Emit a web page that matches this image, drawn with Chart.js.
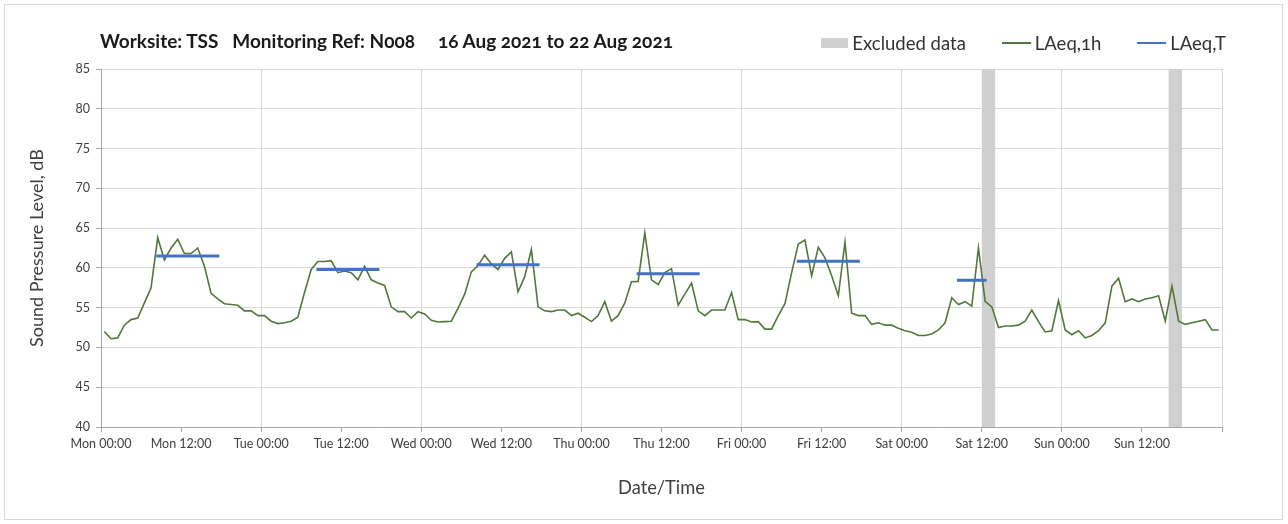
<!DOCTYPE html>
<html>
<head>
<meta charset="utf-8">
<title>Noise monitoring N008</title>
<script src="https://cdn.jsdelivr.net/npm/chart.js@4.4.1/dist/chart.umd.min.js"></script>
<style>
  html, body { margin: 0; padding: 0; background: #fff; }
  #wrap { position: relative; width: 1288px; height: 524px; font-family: Lato, "Open Sans", sans-serif; }
  #c { position: absolute; left: 0; top: 0; }
  #frame { position: absolute; left: 4px; top: 4px; width: 1279px; height: 516px; box-sizing: border-box;
           border: 1px solid #d9d9d9; pointer-events: none; }
  #title { position: absolute; left: 100px; top: 29px; font-weight: 700; font-size: 19px; color: #1a1a1a;
           white-space: pre; line-height: 24px; font-feature-settings: "onum" 1; }
  #legend { position: absolute; right: 62px; top: 31px; display: flex; align-items: center; gap: 36px;
            font-size: 18.5px; color: #333; line-height: 24px; font-feature-settings: "onum" 1; }
  #legend .item { display: flex; align-items: center; gap: 4px; }
  #legend .swatch { display: inline-block; }
</style>
</head>
<body>
<div id="wrap">
  <canvas id="c" width="1288" height="524"></canvas>
  <div id="frame"></div>
  <div id="title">Worksite: TSS   Monitoring Ref: N008     16 Aug 2021 to 22 Aug 2021</div>
  <div id="legend"></div>
</div>
<script>
// Hourly A-weighted levels, one value per hour from Mon 00:00 (plotted at mid-hour)
const lAeq1h = [
  52.0, 51.1, 51.2, 52.8, 53.5, 53.7, 55.6, 57.5, 63.8, 61.0, 62.5, 63.6,
  61.8, 61.8, 62.5, 60.2, 56.8, 56.1, 55.5, 55.4, 55.3, 54.6, 54.6, 54.0,
  54.0, 53.3, 53.0, 53.1, 53.3, 53.8, 56.9, 59.8, 60.8, 60.8, 60.9, 59.4,
  59.6, 59.4, 58.5, 60.2, 58.5, 58.1, 57.8, 55.1, 54.5, 54.5, 53.7, 54.5,
  54.2, 53.4, 53.2, 53.25, 53.3, 54.9, 56.7, 59.5, 60.3, 61.6, 60.5, 59.8,
  61.2, 62.0, 57.0, 58.9, 62.3, 55.1, 54.6, 54.5, 54.7, 54.7, 54.0, 54.3,
  53.8, 53.25, 54.0, 55.75, 53.3, 54.0, 55.6, 58.25, 58.3, 64.4, 58.5, 57.9,
  59.4, 59.9, 55.3, 56.7, 58.1, 54.6, 54.0, 54.7, 54.7, 54.7, 56.9, 53.5,
  53.5, 53.2, 53.25, 52.3, 52.3, 54.0, 55.5, 59.4, 63.0, 63.5, 59.0, 62.6,
  61.25, 59.0, 56.5, 63.25, 54.3, 54.0, 54.0, 52.9, 53.1, 52.8, 52.8, 52.4,
  52.1, 51.9, 51.5, 51.5, 51.7, 52.2, 53.1, 56.25, 55.4, 55.75, 55.2, 62.5,
  55.8, 55.1, 52.5, 52.7, 52.7, 52.8, 53.3, 54.7, 53.25, 51.95, 52.1, 55.9,
  52.2, 51.6, 52.1, 51.2, 51.5, 52.1, 53.1, 57.7, 58.7, 55.75, 56.1, 55.75,
  56.1, 56.25, 56.5, 53.3, 57.7, 53.3, 52.9, 53.1, 53.3, 53.5, 52.2, 52.2
];

// Working-period levels LAeq,T: start hour, end hour and level for each day
const periodStart = [8.5, 32.5, 56.5, 80.5, 104.5, 128.5];
const periodEnd   = [17.5, 41.5, 65.5, 89.5, 113.5, 132.5];
const lAeqT       = [61.5, 59.8, 60.4, 59.25, 60.85, 58.45];

// Excluded data windows (hours from Mon 00:00)
const excludedFrom = [132, 160];
const excludedTo   = [134, 162];

// Axis tick labels every 12 hours
const tickLabels = [
  'Mon 00:00', 'Mon 12:00', 'Tue 00:00', 'Tue 12:00', 'Wed 00:00', 'Wed 12:00',
  'Thu 00:00', 'Thu 12:00', 'Fri 00:00', 'Fri 12:00', 'Sat 00:00', 'Sat 12:00',
  'Sun 00:00', 'Sun 12:00'
];

const GREEN = '#53773a';
const BLUE = '#4472c4';
const GREY = '#d0d0d0';
const GRID = '#d9d9d9';
const AXIS = '#a6a6a6';
const TEXT = '#404040';
const FONT = 'Lato, "Open Sans", sans-serif';

const hourlyPoints = lAeq1h.map((v, i) => ({ x: i + 0.5, y: v }));
const periodPoints = [];
lAeqT.forEach((v, i) => {
  periodPoints.push({ x: periodStart[i], y: v }, { x: periodEnd[i], y: v }, { x: periodEnd[i], y: null });
});

// Shaded bands for excluded periods, drawn behind the data lines
const excludedBands = {
  id: 'excludedBands',
  beforeDatasetsDraw(chart) {
    const { ctx, chartArea, scales: { x } } = chart;
    ctx.save();
    ctx.fillStyle = GREY;
    excludedFrom.forEach((from, i) => {
      const x0 = x.getPixelForValue(from);
      const x1 = x.getPixelForValue(excludedTo[i]);
      ctx.fillRect(x0, chartArea.top, x1 - x0, chartArea.bottom - chartArea.top);
    });
    ctx.restore();
  }
};

const chart = new Chart(document.getElementById('c'), {
  type: 'line',
  data: {
    datasets: [
      { label: 'Excluded data', data: [], backgroundColor: GREY, borderColor: GREY, borderWidth: 0, order: 2 },
      { label: 'LAeq,1h', data: hourlyPoints, borderColor: GREEN, backgroundColor: GREEN,
        borderWidth: 1.6, pointRadius: 0, tension: 0, order: 1 },
      { label: 'LAeq,T', data: periodPoints, borderColor: BLUE, backgroundColor: BLUE,
        borderWidth: 3, pointRadius: 0, spanGaps: false, borderCapStyle: 'square', order: 0 }
    ]
  },
  options: {
    responsive: false,
    animation: false,
    devicePixelRatio: 1,
    layout: { padding: { left: 0, right: 66, top: 69, bottom: 0 } },
    plugins: { legend: { display: false }, title: { display: false }, tooltip: { enabled: false } },
    scales: {
      x: {
        type: 'linear', min: 0, max: 168,
        afterFit(scale) { scale.height = 97; },
        ticks: {
          stepSize: 12, autoSkip: false, maxRotation: 0, minRotation: 0, padding: 4,
          color: TEXT, font: { family: FONT, size: 12.5 },
          callback: (v) => tickLabels[v / 12] || ''
        },
        grid: {
          color: (c) => (c.tick && c.tick.value % 24 === 0) ? GRID : 'rgba(0,0,0,0)',
          tickColor: AXIS, tickLength: 5, lineWidth: 1
        },
        border: { color: AXIS, width: 1 },
        title: { display: true, text: 'Date/Time', color: TEXT,
                 font: { family: FONT, size: 18.3 }, padding: { top: 0, bottom: 25 } }
      },
      y: {
        min: 40, max: 85,
        afterFit(scale) { scale.width = 101; },
        ticks: { stepSize: 5, padding: 6, color: TEXT, font: { family: FONT, size: 12.5 } },
        grid: { color: GRID, tickColor: AXIS, tickLength: 5, lineWidth: 1 },
        border: { color: AXIS, width: 1 },
        title: { display: true, text: 'Sound Pressure Level, dB', color: TEXT,
                 font: { family: FONT, size: 18 }, padding: { top: 26, bottom: 0 } }
      }
    }
  },
  plugins: [excludedBands]
});

// Legend row built from the chart's own legend items, kept in dataset order
const legendEl = document.getElementById('legend');
Chart.defaults.plugins.legend.labels.generateLabels(chart)
  .sort((a, b) => a.datasetIndex - b.datasetIndex)
  .forEach((item) => {
    const row = document.createElement('span');
    row.className = 'item';
    const sw = document.createElement('span');
    sw.className = 'swatch';
    if (item.datasetIndex === 0) {
      sw.style.width = '27px'; sw.style.height = '10px'; sw.style.background = item.fillStyle;
    } else {
      sw.style.width = '29px'; sw.style.height = Math.max(1.5, item.lineWidth * 0.7) + 'px';
      sw.style.background = item.strokeStyle;
    }
    const tx = document.createElement('span');
    tx.textContent = item.text;
    row.appendChild(sw); row.appendChild(tx);
    legendEl.appendChild(row);
  });
</script>
</body>
</html>
